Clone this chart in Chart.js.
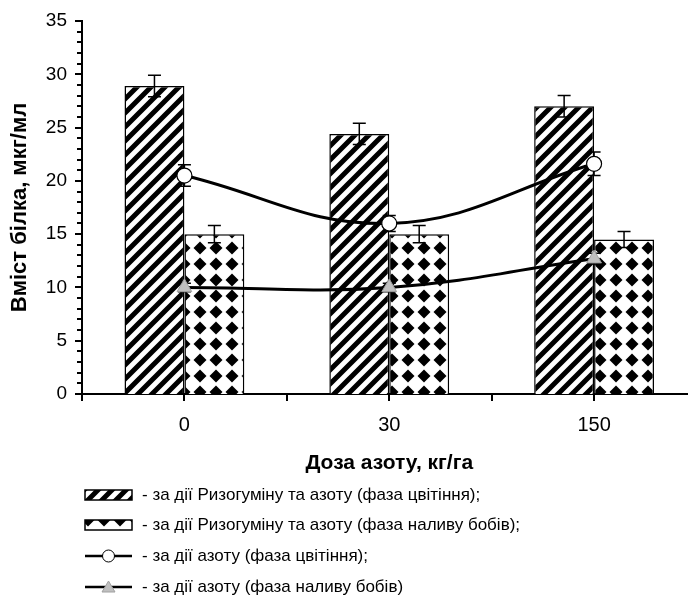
<!DOCTYPE html>
<html>
<head>
<meta charset="utf-8">
<script src="https://cdn.jsdelivr.net/npm/chart.js@4/dist/chart.umd.min.js"></script>
<style>
  html, body { margin: 0; padding: 0; background: #fff; }
  body { width: 688px; height: 601px; overflow: hidden; }
  #wrap { width: 706px; height: 601px; }
</style>
</head>
<body>
<div id="wrap"><canvas id="chart" width="706" height="601"></canvas></div>
<script>
// --- дані ---
const doses = ['0', '30', '150'];
const seriesLabels = [
    'за дії Ризогуміну та азоту (фаза цвітіння)',
    'за дії Ризогуміну та азоту (фаза наливу бобів)',
    'за дії азоту (фаза цвітіння)',
    'за дії азоту (фаза наливу бобів)'
];
const rizoFlower = [28.9, 24.4, 27.0];
const rizoFlowerErr = [1.0, 1.0, 1.0];
const rizoBeans = [15.0, 15.0, 14.5];
const rizoBeansErr = [0.8, 0.8, 0.75];
const nFlower = [20.5, 16.0, 21.6];
const nFlowerErr = [1.0, 0.75, 1.1];
const nBeans = [10.0, 10.0, 12.7];
const nBeansErr = [0.4, 0.4, 0.5];
const yTicksMax = 35;
const yTicksStep = 5;

const FONT = "'Liberation Sans', Arial, sans-serif";

function makeStripes() {
    const s = 14;
    const c = document.createElement('canvas');
    c.width = s; c.height = s;
    const g = c.getContext('2d');
    g.fillStyle = '#fff';
    g.fillRect(0, 0, s, s);
    g.strokeStyle = '#000';
    g.lineWidth = 5;
    g.beginPath();
    g.moveTo(-s / 2, s / 2); g.lineTo(s / 2, -s / 2);
    g.moveTo(0, s); g.lineTo(s, 0);
    g.moveTo(s / 2, s * 1.5); g.lineTo(s * 1.5, s / 2);
    g.stroke();
    return g.createPattern(c, 'repeat');
}

function makeDiamonds() {
    const c = document.createElement('canvas');
    c.width = 16; c.height = 16;
    const g = c.getContext('2d');
    g.fillStyle = '#fff';
    g.fillRect(0, 0, 16, 16);
    g.fillStyle = '#000';
    g.beginPath();
    g.moveTo(8, 1.5); g.lineTo(14.5, 8); g.lineTo(8, 14.5); g.lineTo(1.5, 8);
    g.closePath();
    g.fill();
    return g.createPattern(c, 'repeat');
}

const stripes = makeStripes();
const diamonds = makeDiamonds();

const errors = [rizoFlowerErr, rizoBeansErr, nFlowerErr, nBeansErr];

function drawErrors(chart, idx) {
    const ctx = chart.ctx;
    const y = chart.scales.y;
    const meta = chart.getDatasetMeta(idx);
    const data = chart.data.datasets[idx].data;
    ctx.save();
    ctx.strokeStyle = '#000';
    ctx.lineWidth = 1.5;
    meta.data.forEach((el, i) => {
        const e = errors[idx][i];
        const top = y.getPixelForValue(data[i] + e);
        const bot = y.getPixelForValue(data[i] - e);
        ctx.beginPath();
        ctx.moveTo(el.x, top); ctx.lineTo(el.x, bot);
        ctx.moveTo(el.x - 6.5, top); ctx.lineTo(el.x + 6.5, top);
        ctx.moveTo(el.x - 6.5, bot); ctx.lineTo(el.x + 6.5, bot);
        ctx.stroke();
    });
    ctx.restore();
}

const errorBars = {
    id: 'errorBars',
    beforeDatasetDraw(chart, args) {
        if (args.index >= 2) drawErrors(chart, args.index);
    },
    afterDatasetDraw(chart, args) {
        if (args.index < 2) drawErrors(chart, args.index);
    }
};

const tickMarks = {
    id: 'tickMarks',
    afterDraw(chart) {
        const ctx = chart.ctx;
        const x = chart.scales.x, y = chart.scales.y;
        ctx.save();
        ctx.strokeStyle = '#000';
        ctx.lineWidth = 2;
        ctx.beginPath();
        for (let v = 0; v <= yTicksMax; v++) {
            const py = Math.round(y.getPixelForValue(v));
            const len = v % yTicksStep === 0 ? 7 : 5;
            ctx.moveTo(x.left - len, py); ctx.lineTo(x.left, py);
        }
        for (let i = -0.5; i <= doses.length - 0.5; i += 0.5) {
            const px = Math.round(x.getPixelForValue(i));
            ctx.moveTo(px, y.bottom); ctx.lineTo(px, y.bottom + 7);
        }
        ctx.stroke();
        ctx.restore();
    }
};

// легенда під графіком
const listLegend = {
    id: 'listLegend',
    afterDraw(chart) {
        const ctx = chart.ctx;
        const rows = [495, 525, 556, 587];
        const sx = 85, sw = 47;
        ctx.save();
        chart.data.datasets.forEach((ds, i) => {
            const cy = rows[i];
            if (ds.type !== 'line') {
                ctx.fillStyle = ds.backgroundColor;
                ctx.fillRect(sx, cy - 5, sw, 10);
                ctx.strokeStyle = '#000';
                ctx.lineWidth = 1.5;
                ctx.strokeRect(sx, cy - 5, sw, 10);
            } else {
                ctx.strokeStyle = '#000';
                ctx.lineWidth = 2.5;
                ctx.beginPath();
                ctx.moveTo(sx, cy); ctx.lineTo(sx + sw, cy);
                ctx.stroke();
                ctx.fillStyle = ds.pointBackgroundColor;
                ctx.strokeStyle = ds.pointBorderColor;
                ctx.lineWidth = 1;
                const mx = sx + sw / 2;
                ctx.beginPath();
                if (ds.pointStyle === 'circle') {
                    ctx.arc(mx, cy, 6, 0, Math.PI * 2);
                } else {
                    ctx.moveTo(mx, cy - 6); ctx.lineTo(mx + 6.5, cy + 5); ctx.lineTo(mx - 6.5, cy + 5);
                    ctx.closePath();
                }
                ctx.fill(); ctx.stroke();
            }
            ctx.fillStyle = '#000';
            ctx.font = '17px ' + FONT;
            ctx.textBaseline = 'middle';
            ctx.textAlign = 'left';
            const end = i < chart.data.datasets.length - 1 ? ';' : '';
            ctx.fillText('- ' + ds.label + end, 142, cy);
        });
        ctx.restore();
    }
};

new Chart(document.getElementById('chart'), {
    type: 'bar',
    data: {
        labels: doses,
        datasets: [
            { label: seriesLabels[0], data: rizoFlower, backgroundColor: stripes, borderColor: '#000', borderWidth: 1.5, order: 2,
              barPercentage: 1, categoryPercentage: 0.585 },
            { label: seriesLabels[1], data: rizoBeans, backgroundColor: diamonds, borderColor: '#000', borderWidth: 1.5, order: 2,
              barPercentage: 1, categoryPercentage: 0.585 },
            { type: 'line', label: seriesLabels[2], data: nFlower, borderColor: '#000', borderWidth: 3, tension: 0.4,
              pointStyle: 'circle', pointRadius: 7.5, pointBackgroundColor: '#fff', pointBorderColor: '#000', pointBorderWidth: 1.2, order: 1 },
            { type: 'line', label: seriesLabels[3], data: nBeans, borderColor: '#000', borderWidth: 3, tension: 0.4,
              pointStyle: 'triangle', pointRadius: 8.5, pointBackgroundColor: '#c0c0c0', pointBorderColor: '#a0a0a0', pointBorderWidth: 1, order: 0 }
        ]
    },
    options: {
        responsive: false,
        animation: false,
        devicePixelRatio: 1,
        layout: { padding: { top: 21, right: 3, bottom: 125, left: 0 } },
        plugins: { legend: { display: false }, tooltip: { enabled: false } },
        scales: {
            x: {
                offset: true,
                grid: { display: false, drawTicks: false },
                border: { display: true, color: '#000', width: 2 },
                ticks: { color: '#000', font: { family: FONT, size: 20 }, padding: 19 },
                title: { display: true, text: 'Доза азоту, кг/га', color: '#000',
                         font: { family: FONT, size: 21, weight: 'bold' }, padding: { top: 0, bottom: 0 } },
                afterFit(scale) {
                    scale.height = 82;
                    scale.paddingLeft = 0; scale.paddingRight = 0;
                }
            },
            y: {
                min: 0, max: yTicksMax,
                grid: { display: false, drawTicks: false },
                border: { display: true, color: '#000', width: 2 },
                ticks: { stepSize: yTicksStep, color: '#000', font: { family: FONT, size: 19 }, padding: 15 },
                title: { display: true, text: 'Вміст білка, мкг/мл', color: '#000',
                         font: { family: FONT, size: 22, weight: 'bold' }, padding: { top: 7, bottom: 0 } },
                afterFit(scale) {
                    scale.width = 82;
                    scale.paddingTop = 0; scale.paddingBottom = 0;
                }
            }
        }
    },
    plugins: [errorBars, tickMarks, listLegend]
});
</script>
</body>
</html>
